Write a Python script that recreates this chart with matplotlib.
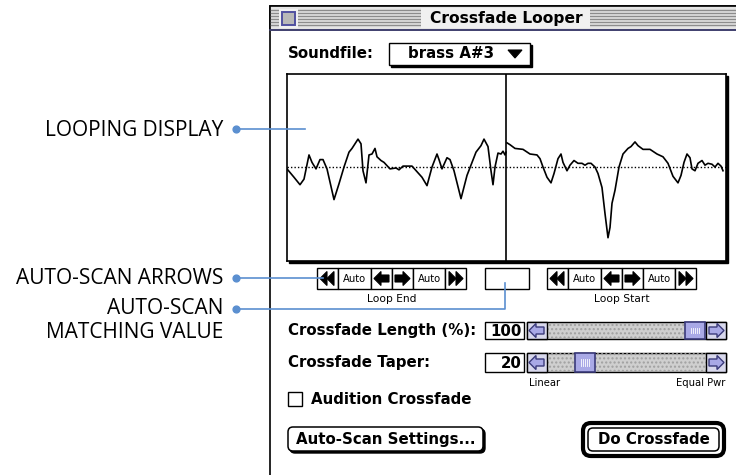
import matplotlib.pyplot as plt
import matplotlib.patches as mpatches
import numpy as np

# waveform (sample offset from loop point, amplitude -1..1)
end_offsets = [-219, -212, -206, -202, -197, -194, -190, -186, -183, -179, -172, -167, -162,
               -157, -154, -148, -145, -143, -140, -137, -134, -131, -129, -125, -122, -116,
               -110, -107, -103, -94, -89, -84, -79, -74, -69, -67, -64, -59, -56, -52, -45,
               -39, -30, -25, -22, -18, -15, -13, -11, -8, -5, -3, -1, 0]
end_amp = [-0.02, -0.11, -0.19, -0.13, 0.13, 0.05, -0.02, 0.08, 0.08, -0.02, -0.35, -0.18, 0.0,
           0.16, 0.20, 0.30, 0.25, -0.04, -0.17, 0.13, 0.14, 0.20, 0.11, 0.07, 0.05, -0.02,
           -0.01, -0.03, 0.01, 0.01, -0.05, -0.11, -0.20, 0.0, 0.14, 0.08, -0.02, 0.10, 0.08,
           -0.04, -0.34, -0.09, 0.16, 0.23, 0.30, 0.22, -0.04, -0.19, 0.0, 0.15, 0.14, 0.17,
           0.13, 0.16]
start_offsets = [1, 4, 9, 17, 24, 31, 34, 37, 41, 45, 48, 52, 55, 57, 61, 64, 68, 72, 76, 79,
                 82, 85, 89, 92, 96, 99, 102, 104, 106, 109, 113, 117, 122, 125, 129, 132, 137,
                 144, 151, 157, 162, 167, 172, 175, 178, 181, 184, 186, 189, 192, 196, 199, 202,
                 206, 209, 212, 215, 217]
start_amp = [0.26, 0.24, 0.20, 0.19, 0.14, 0.13, 0.09, 0.0, -0.11, -0.17, -0.07, 0.09, 0.14,
             0.05, -0.04, 0.02, 0.07, 0.04, 0.04, 0.02, 0.04, 0.04, 0.0, -0.07, -0.22, -0.50,
             -0.76, -0.65, -0.39, -0.25, 0.0, 0.14, 0.20, 0.22, 0.27, 0.23, 0.19, 0.19, 0.14,
             0.11, 0.04, -0.10, -0.17, -0.09, 0.05, 0.14, 0.10, -0.02, -0.04, 0.04, 0.07, 0.02,
             0.04, 0.03, 0.0, 0.04, 0.01, -0.04]

soundfile = "brass A#3"
crossfade_length = 100
crossfade_taper = 20
callouts = ["LOOPING DISPLAY", "AUTO-SCAN ARROWS", "AUTO-SCAN", "MATCHING VALUE"]

W, H = 736, 475
UI = "DejaVu Sans"
BLUE = "#5b8fd0"
LAV = "#a9a9e6"
DLAV = "#3a3a7a"
BFS = 10.8  # bold ui font size

fig = plt.figure(figsize=(W / 100, H / 100), dpi=100)
ax = fig.add_axes([0, 0, 1, 1])
ax.set_xlim(0, W)
ax.set_ylim(H, 0)
ax.axis("off")


def rect(x0, y0, x1, y1, fc="white", ec="black", lw=1.0, z=2, a=ax):
    a.add_patch(mpatches.Rectangle((x0, y0), x1 - x0, y1 - y0, fc=fc, ec=ec, lw=lw, zorder=z))


def poly(pts, fc="black", ec="black", lw=0.8, z=4):
    ax.add_patch(mpatches.Polygon(pts, closed=True, fc=fc, ec=ec, lw=lw, zorder=z))


# window frame + title bar
rect(270, 6, 745, 480, fc="white", lw=1.2, z=1)
rect(270, 6, 745, 30, fc="#e4e4e4", ec="black", lw=1.2, z=2)
for yy in [10, 13, 16, 19, 22, 25]:
    ax.plot([271, 740], [yy, yy], color="#8c8c8c", lw=1.0, zorder=3)
ax.plot([270, 740], [29.5, 29.5], color="#4a4a80", lw=1.2, zorder=3)
rect(421, 8, 590, 28, fc="#f0f0f0", ec="none", z=3)
rect(279, 9, 298, 28, fc="#f0f0f0", ec="none", z=3)
rect(282, 12, 295, 25, fc="#b8b8b8", ec="#5050a0", lw=1.4, z=4)
ax.text(506, 19, "Crossfade Looper", family=UI, weight="bold", fontsize=11.2,
        ha="center", va="center", zorder=5)

# soundfile popup
ax.text(288, 54, "Soundfile:", family=UI, weight="bold", fontsize=BFS, va="center")
rect(391, 45, 532, 67, fc="black", ec="black", z=2)
rect(389, 43, 530, 65, fc="white", lw=1.0, z=3)
ax.text(408, 54, soundfile, family=UI, weight="bold", fontsize=BFS, va="center", zorder=4)
poly([(508, 50), (522, 50), (515, 58)])

# looping display
rect(289, 76, 728, 263, fc="black", ec="black", z=2)
wax = fig.add_axes([287 / W, 1 - 261 / H, (726 - 287) / W, (261 - 74) / H])
wax.set_xlim(-219, 220)
wax.set_ylim(-1.01, 1.0)
wax.set_xticks([])
wax.set_yticks([])
for s in wax.spines.values():
    s.set_linewidth(1.2)
wax.axhline(0, color="black", lw=1.0, ls=(0, (1, 1.5)))
wax.axvline(0, color="black", lw=1.2)
wax.plot(end_offsets, end_amp, color="black", lw=1.2)
wax.plot(start_offsets, start_amp, color="black", lw=1.2)


# auto-scan arrow strips
def dbl(x0, y0, right):
    yc = y0 + 10.5
    for dx in (3, 10):
        if right:
            poly([(x0 + 21 - dx, yc), (x0 + 14 - dx, yc - 7), (x0 + 14 - dx, yc + 7)])
        else:
            poly([(x0 + dx, yc), (x0 + dx + 7, yc - 7), (x0 + dx + 7, yc + 7)])


def fat(x0, y0, right, fc="black", ec="black"):
    yc = y0 + 10.5
    pts = [(3, 0), (10, -7), (10, -3.5), (18, -3.5), (18, 3.5), (10, 3.5), (10, 7)]
    if right:
        pts = [(21 - px, py) for px, py in pts]
    poly([(x0 + px, yc + py) for px, py in pts], fc=fc, ec=ec)


def strip(x0, label):
    y0, y1 = 268, 289
    cells = [(0, 21), (21, 54), (54, 75), (75, 96), (96, 128), (128, 149)]
    for a, b in cells:
        rect(x0 + a, y0, x0 + b, y1, lw=1.0, z=3)
    dbl(x0, y0, False)
    ax.text(x0 + 37.5, 278.5, "Auto", family=UI, fontsize=7.2, ha="center", va="center", zorder=4)
    fat(x0 + 54, y0, False)
    fat(x0 + 75, y0, True)
    ax.text(x0 + 112, 278.5, "Auto", family=UI, fontsize=7.2, ha="center", va="center", zorder=4)
    dbl(x0 + 128, y0, True)
    ax.text(x0 + 74.5, 299, label, family=UI, fontsize=7.7, ha="center", va="center")


strip(317, "Loop End")
strip(547, "Loop Start")
rect(485, 268, 529, 289, lw=1.0, z=3)


# sliders
def slider(y0, y1, value, label):
    ax.text(288, (y0 + y1) / 2, label, family=UI, weight="bold", fontsize=BFS, va="center")
    rect(485, y0, 524, y1, lw=1.0, z=3)
    ax.text(522, (y0 + y1) / 2 + 0.5, str(value), family=UI, weight="bold", fontsize=10.8,
            ha="right", va="center", zorder=4)
    rect(527, y0, 726, y1, fc="#cfcfcf", ec="black", lw=1.0, z=3)
    ax.add_patch(mpatches.Rectangle((548, y0), 158, y1 - y0, fc="none", ec="#a0a0a0",
                                    hatch="....", lw=0, zorder=3))
    for a, right in [(527, False), (706, True)]:
        rect(a, y0, a + 20, y1, fc="#d8d8ec", ec="black", lw=1.0, z=4)
        yc = (y0 + y1) / 2
        pts = [(2, 0), (9, -7), (9, -3.5), (17, -3.5), (17, 3.5), (9, 3.5), (9, 7)]
        if right:
            pts = [(20 - px, py) for px, py in pts]
        poly([(a + px, yc + py) for px, py in pts], fc=LAV, ec=DLAV, lw=1.0, z=5)
    tx = 548 + (685 - 548) * value / 100
    rect(tx, y0, tx + 20, y1, fc=LAV, ec=DLAV, lw=1.2, z=5)
    for k in range(5):
        ax.plot([tx + 6 + 2 * k] * 2, [y0 + 6, y1 - 6], color="white", lw=0.6, zorder=6)


slider(322, 339, crossfade_length, "Crossfade Length (%):")
slider(353, 372, crossfade_taper, "Crossfade Taper:")
ax.text(529, 383, "Linear", family=UI, fontsize=7.2, va="center")
ax.text(725, 383, "Equal Pwr", family=UI, fontsize=7.2, ha="right", va="center")

# checkbox
rect(288, 392, 302, 406, lw=1.0, z=3)
ax.text(311, 399, "Audition Crossfade", family=UI, weight="bold", fontsize=BFS, va="center")

# buttons
ax.add_patch(mpatches.FancyBboxPatch((290, 429), 195, 24, boxstyle="round,pad=0,rounding_size=5",
                                     fc="black", ec="black", lw=1, zorder=2))
ax.add_patch(mpatches.FancyBboxPatch((288, 427), 195, 24, boxstyle="round,pad=0,rounding_size=5",
                                     fc="white", ec="black", lw=1.1, zorder=3))
ax.text(385.5, 439.5, "Auto-Scan Settings...", family=UI, weight="bold", fontsize=BFS,
        ha="center", va="center", zorder=4)
ax.add_patch(mpatches.FancyBboxPatch((583, 423), 141, 33, boxstyle="round,pad=0,rounding_size=8",
                                     fc="white", ec="black", lw=3, zorder=3))
ax.add_patch(mpatches.FancyBboxPatch((588, 428), 131, 23, boxstyle="round,pad=0,rounding_size=5",
                                     fc="white", ec="black", lw=1.1, zorder=4))
ax.text(653.5, 439.5, "Do Crossfade", family=UI, weight="bold", fontsize=BFS,
        ha="center", va="center", zorder=5)

# callouts on top of everything
ov = fig.add_axes([0, 0, 1, 1])
ov.set_xlim(0, W)
ov.set_ylim(H, 0)
ov.axis("off")
ov.patch.set_alpha(0)
CF = "Open Sans"
CFS = 15
ov.text(223, 130, callouts[0], family=CF, fontsize=CFS, ha="right", va="center")
ov.text(223, 279, callouts[1], family=CF, fontsize=CFS, ha="right", va="center")
ov.text(223, 309, callouts[2], family=CF, fontsize=CFS, ha="right", va="center")
ov.text(223, 332, callouts[3], family=CF, fontsize=CFS, ha="right", va="center")
ov.plot([236, 305], [129, 129], color=BLUE, lw=1.2)
ov.plot([236, 323], [278, 278], color=BLUE, lw=1.2)
ov.plot([236, 505, 505], [308.5, 308.5, 283], color=BLUE, lw=1.2)
ov.scatter([236, 236, 236], [129, 278, 308.5], s=24, color=BLUE, zorder=5)

fig.savefig("out.png", dpi=100)
